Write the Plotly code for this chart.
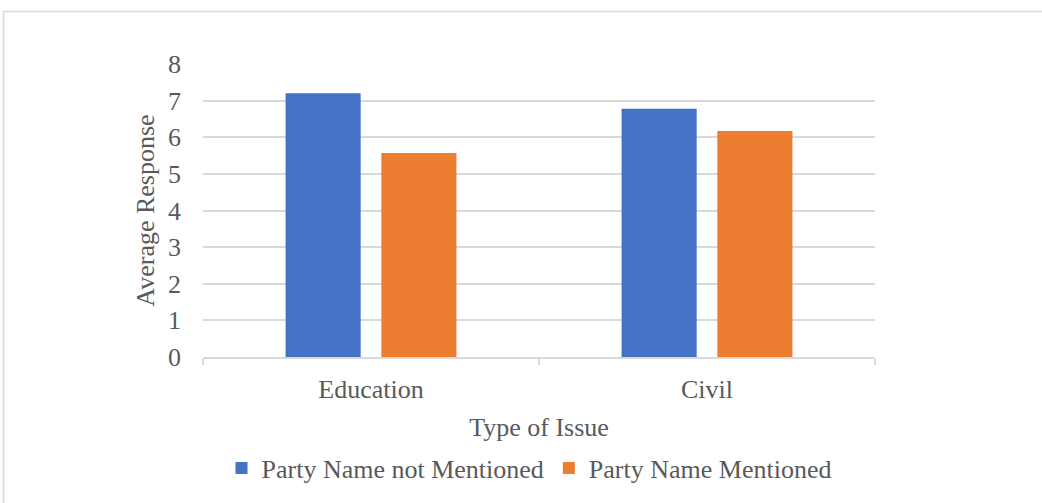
import plotly.graph_objects as go

# Chart data
categories = ["Education", "Civil"]
not_mentioned = [7.2, 6.78]
mentioned = [5.57, 6.17]
series_names = ["Party Name not Mentioned", "Party Name Mentioned"]
y_ticks = [0, 1, 2, 3, 4, 5, 6, 7, 8]

W, H = 1042, 503
ML, MR, MT, MB = 203, 167, 64, 146
FONT = "Liberation Serif, Times New Roman, serif"
TXT = "#595959"
GRID = "#d9d9d9"
FS = 26

fig = go.Figure()
fig.add_trace(go.Bar(x=categories, y=not_mentioned, name=series_names[0],
                     marker=dict(color="#4472C4", line=dict(width=0))))
fig.add_trace(go.Bar(x=categories, y=mentioned, name=series_names[1],
                     marker=dict(color="#ED7D31", line=dict(width=0))))

pw = W - ML - MR
ph = H - MT - MB


def px_x(x):
    return (x - ML) / pw


def px_y(y):
    return (H - MB - y) / ph


# outer chart-area border (top and left edges visible)
fig.add_shape(type="line", xref="paper", yref="paper",
              x0=px_x(3.5), x1=px_x(W + 5), y0=px_y(11.5), y1=px_y(11.5),
              line=dict(color=GRID, width=1.5))
fig.add_shape(type="line", xref="paper", yref="paper",
              x0=px_x(3.5), x1=px_x(3.5), y0=px_y(11.5), y1=px_y(H + 5),
              line=dict(color=GRID, width=1.5))

fig.update_layout(
    width=W, height=H,
    margin=dict(l=ML, r=MR, t=MT, b=MB, pad=0),
    paper_bgcolor="white", plot_bgcolor="white",
    barmode="group", bargap=0.43, bargroupgap=0.216,
    font=dict(family=FONT, size=FS, color=TXT),
    showlegend=True,
    legend=dict(orientation="h", x=px_x(529), xanchor="center", y=px_y(468), yanchor="middle",
                font=dict(family=FONT, size=FS, color=TXT), itemclick=False,
                bgcolor="rgba(0,0,0,0)"),
    xaxis=dict(
        type="category", showgrid=False, showline=True, linecolor=GRID, linewidth=1.5,
        ticks="outside", tickson="boundaries", ticklen=6, tickcolor=GRID, tickwidth=1.5,
        ticklabelstandoff=8,
        tickfont=dict(family=FONT, size=FS, color=TXT),
        title=dict(text="Type of Issue", font=dict(family=FONT, size=FS, color=TXT), standoff=15),
        zeroline=False, fixedrange=True,
    ),
    yaxis=dict(
        range=[0, 8], tickvals=y_ticks, showgrid=True, gridcolor=GRID, gridwidth=1.5,
        showline=False, zeroline=False, ticks="", ticklabelstandoff=21,
        tickfont=dict(family=FONT, size=FS, color=TXT),
        title=dict(text="Average Response", font=dict(family=FONT, size=FS, color=TXT), standoff=5),
        fixedrange=True,
    ),
)

fig.write_html("out.html", config={"displayModeBar": False})
